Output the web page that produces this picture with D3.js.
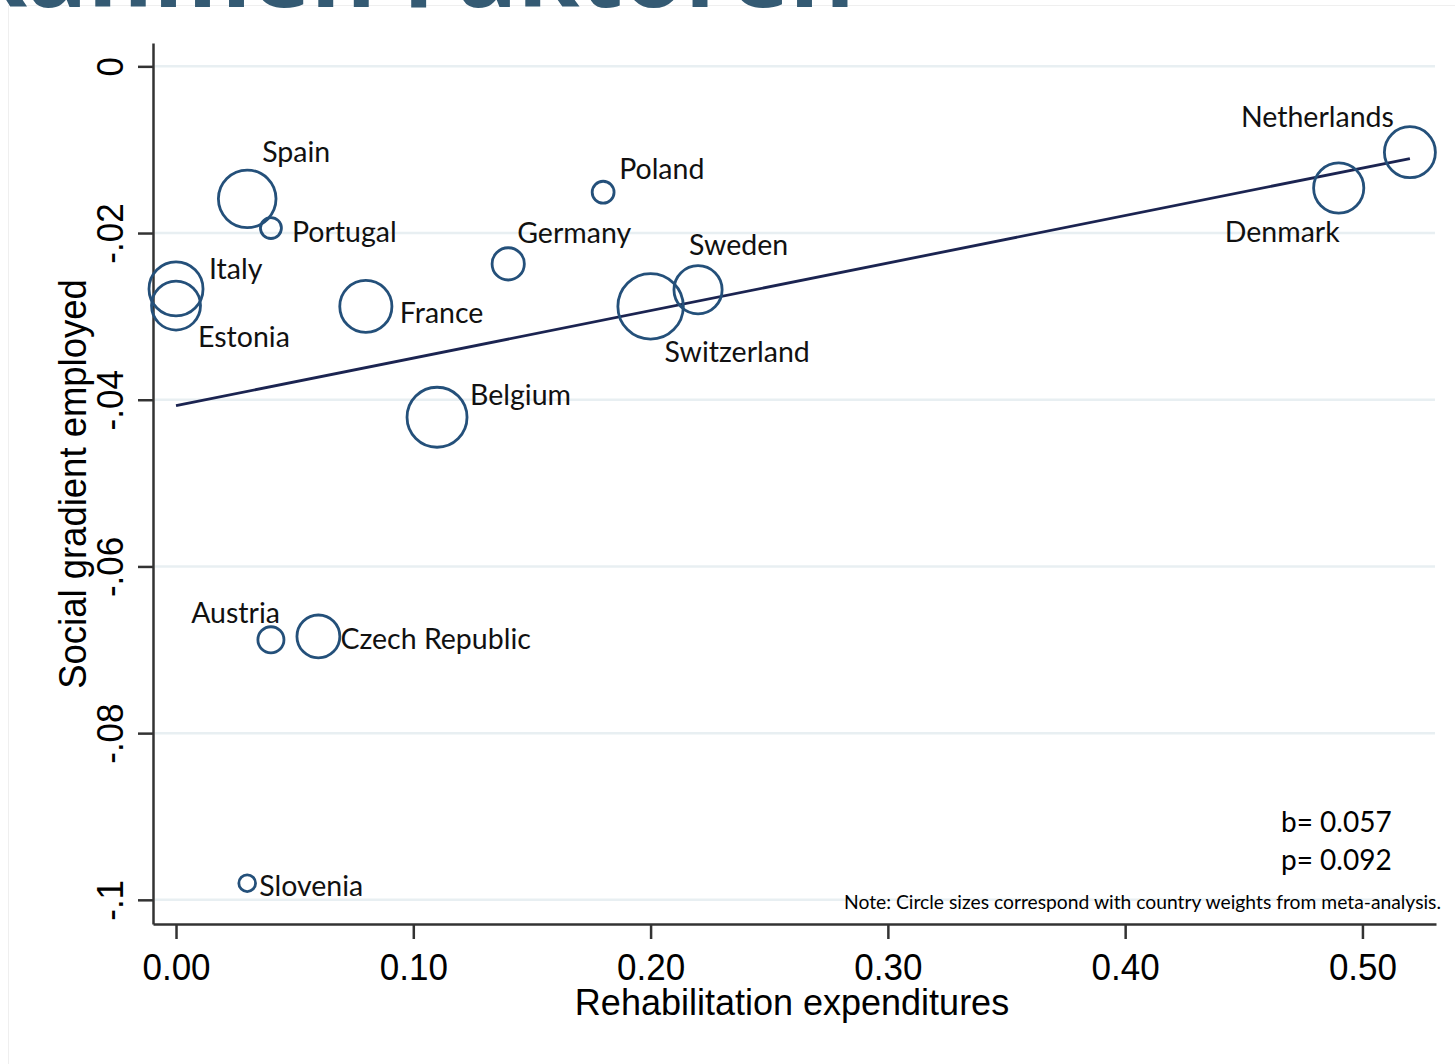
<!DOCTYPE html>
<html>
<head>
<meta charset="utf-8">
<script src="https://cdn.jsdelivr.net/npm/d3@7"></script>
<style>
  body { margin: 0; background: #fff; }
  svg { display: block; }
</style>
</head>
<body>
<svg id="chart" width="1455" height="1064"></svg>
<script>

// country data
var countries = ["Netherlands", "Denmark", "Spain", "Portugal", "Italy", "Estonia", "France",
    "Germany", "Poland", "Sweden", "Switzerland", "Belgium", "Austria", "Czech Republic", "Slovenia"];
var rehabExp = [0.52, 0.49, 0.03, 0.04, 0.00, 0.00, 0.08, 0.14, 0.18, 0.22, 0.20, 0.11, 0.04, 0.06, 0.03];
var socialGradient = [-0.0103, -0.0146, -0.0159, -0.0194, -0.0267, -0.0287, -0.0288,
    -0.0237, -0.0151, -0.0268, -0.0288, -0.0421, -0.0688, -0.0684, -0.0980];
var countryWeight = [6.5, 6.3, 8.3, 1.1, 7.3, 6.0, 6.8, 2.6, 1.2, 5.8, 10.7, 9.0, 1.7, 4.6, 0.7];

// meta-regression
var fitSlope = 0.057;
var fitIntercept = -0.0407;
var fitP = 0.092;

var xTicks = [0, 0.1, 0.2, 0.3, 0.4, 0.5];
var yTicks = [0, -0.02, -0.04, -0.06, -0.08, -0.1];

var svg = d3.select("#chart");
var W = 1455, H = 1064;

svg.append("rect").attr("width", W).attr("height", H).attr("fill", "#fff");

// slide frame + cut-off slide title
svg.append("rect")
    .attr("x", 8.5).attr("y", 5.5)
    .attr("width", 1500).attr("height", 1100)
    .attr("fill", "none")
    .attr("stroke", "#efefef");

svg.append("text")
    .attr("x", 855).attr("y", 7)
    .attr("text-anchor", "end")
    .style("font-family", "'Open Sans', sans-serif")
    .style("font-weight", "bold")
    .style("font-size", "100px")
    .style("fill", "#345a73")
    .text("Rahmen Faktoren");

var x = d3.scaleLinear().domain([-0.0097, 0.531]).range([153, 1436]);
var y = d3.scaleLinear().domain([0.0028, -0.1029]).range([43, 924]);
var r = d3.scaleSqrt().domain([0, 1]).range([0, 10]);

var axisColor = "#333";
var arial = "'Liberation Sans', Arial, sans-serif";
var labelFont = "Lato, 'Open Sans', sans-serif";
var stretch = 1.05;

// grid
svg.append("g")
    .selectAll("line")
    .data(yTicks)
    .enter()
    .append("line")
    .attr("x1", 155)
    .attr("x2", 1435)
    .attr("y1", function(d) { return y(d); })
    .attr("y2", function(d) { return y(d); })
    .style("stroke", "#e8eff2")
    .style("stroke-width", 2.5);

// axes
var xAxis = d3.axisBottom(x)
    .tickValues(xTicks)
    .tickFormat(d3.format(".2f"))
    .tickSizeOuter(0)
    .tickSizeInner(15);

var gx = svg.append("g")
    .attr("transform", "translate(0," + y.range()[1] + ")")
    .call(xAxis);

gx.select(".domain").style("stroke", axisColor).style("stroke-width", 2.5);
gx.selectAll(".tick line").style("stroke", axisColor).style("stroke-width", 2.5);
gx.selectAll(".tick text")
    .attr("y", null).attr("dy", null)
    .attr("transform", "translate(0,56) scale(1," + stretch + ")")
    .style("font-family", arial)
    .style("font-size", "35px")
    .style("fill", "#000");

var yAxis = d3.axisLeft(y)
    .tickValues(yTicks)
    .tickFormat(function(d) { return d === 0 ? "0" : String(d).replace("0.", "."); })
    .tickSizeOuter(0)
    .tickSizeInner(15);

var gy = svg.append("g")
    .attr("transform", "translate(" + x.range()[0] + ",0)")
    .call(yAxis);

gy.select(".domain").style("stroke", axisColor).style("stroke-width", 2.5);
gy.selectAll(".tick line").style("stroke", axisColor).style("stroke-width", 2.5);
gy.selectAll(".tick text")
    .attr("x", null).attr("dy", null)
    .attr("text-anchor", "middle")
    .attr("transform", "translate(-30,0) rotate(-90) scale(1," + stretch + ")")
    .style("font-family", arial)
    .style("font-size", "35px")
    .style("fill", "#000");

// axis titles
svg.append("text")
    .attr("transform", "translate(792,1015)")
    .attr("text-anchor", "middle")
    .style("font-family", arial)
    .style("font-size", "36px")
    .text("Rehabilitation expenditures");

svg.append("text")
    .attr("transform", "translate(86,484) rotate(-90) scale(1," + stretch + ")")
    .attr("text-anchor", "middle")
    .style("font-family", arial)
    .style("font-size", "36.5px")
    .text("Social gradient employed");

// fitted line
var fitX = d3.extent(rehabExp);
svg.append("line")
    .attr("x1", x(fitX[0]))
    .attr("y1", y(fitIntercept + fitSlope * fitX[0]))
    .attr("x2", x(fitX[1]))
    .attr("y2", y(fitIntercept + fitSlope * fitX[1]))
    .style("stroke", "#1b2451")
    .style("stroke-width", 2.8);

var points = countries.map(function(c, i) {
    return { name: c, x: rehabExp[i], y: socialGradient[i], w: countryWeight[i] };
});

svg.append("g")
    .selectAll("circle")
    .data(points)
    .enter()
    .append("circle")
    .attr("cx", function(d) { return x(d.x); })
    .attr("cy", function(d) { return y(d.y); })
    .attr("r", function(d) { return r(d.w); })
    .style("fill", "none")
    .style("stroke", "#24507a")
    .style("stroke-width", 2.8);

// label placement around each marker (offset from centre, like Stata's mlabvposition)
var labelAt = {
    "Netherlands": [-16, -25, "end"],
    "Denmark": [1, 54, "end"],
    "Spain": [15, -37, "start"],
    "Portugal": [21, 14, "start"],
    "Italy": [33, -10, "start"],
    "Estonia": [22, 41, "start"],
    "France": [34, 17, "start"],
    "Germany": [9, -21, "start"],
    "Poland": [16, -13, "start"],
    "Sweden": [-9, -35, "start"],
    "Switzerland": [14, 56, "start"],
    "Belgium": [33, -12, "start"],
    "Austria": [9, -17, "end"],
    "Czech Republic": [22, 13, "start"],
    "Slovenia": [12, 13, "start"]
};

svg.append("g")
    .selectAll("text")
    .data(points)
    .enter()
    .append("text")
    .attr("x", function(d) { return x(d.x) + labelAt[d.name][0]; })
    .attr("y", function(d) { return y(d.y) + labelAt[d.name][1]; })
    .attr("text-anchor", function(d) { return labelAt[d.name][2]; })
    .style("font-family", labelFont)
    .style("font-size", "28.5px")
    .style("fill", "#111")
    .text(function(d) { return d.name; });

// stats and note
svg.append("text")
    .attr("x", 1281).attr("y", 832)
    .style("font-family", labelFont)
    .style("font-size", "28px")
    .text("b= " + d3.format(".3f")(fitSlope));

svg.append("text")
    .attr("x", 1281).attr("y", 870)
    .style("font-family", labelFont)
    .style("font-size", "28px")
    .text("p= " + d3.format(".3f")(fitP));

svg.append("text")
    .attr("x", 844).attr("y", 909)
    .attr("textLength", 597)
    .attr("lengthAdjust", "spacingAndGlyphs")
    .style("font-family", labelFont)
    .style("font-size", "19px")
    .text("Note: Circle sizes correspond with country weights from meta-analysis.");

</script>
</body>
</html>
